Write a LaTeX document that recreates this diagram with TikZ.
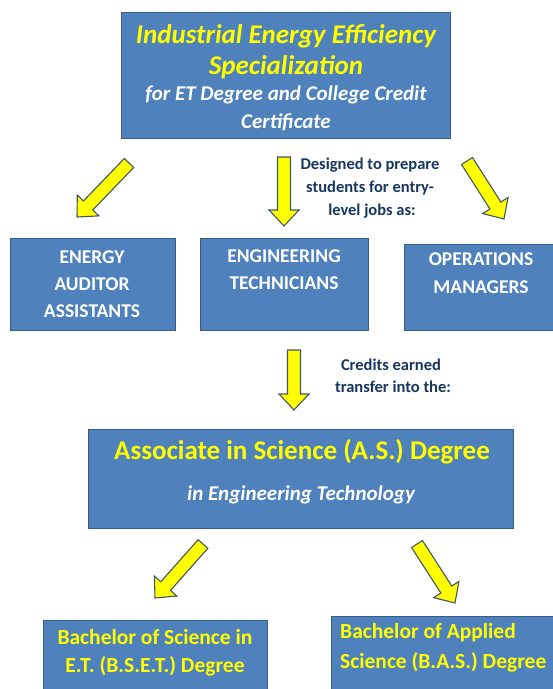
\documentclass[tikz,border=0pt]{standalone}
\usepackage{fontspec}
\setmainfont{Carlito}
\usetikzlibrary{calc}
\definecolor{boxblue}{RGB}{79,129,189}
\definecolor{boxedge}{RGB}{56,93,138}
\definecolor{ytext}{RGB}{255,255,0}
\definecolor{navy}{RGB}{23,55,94}
\definecolor{arrowedge}{RGB}{65,85,105}
\tikzset{
  box/.style={draw=boxedge, line width=1pt, fill=boxblue, inner sep=0pt, outer sep=0pt, anchor=north west},
  ytitle/.style={text=ytext, font=\bfseries\itshape\fontsize{27}{30}\selectfont, inner sep=0pt},
  wsub/.style={text=white, font=\bfseries\itshape\fontsize{21}{24}\selectfont, inner sep=0pt},
  job/.style={text=white, font=\bfseries\fontsize{19.5}{22}\selectfont, inner sep=0pt},
  note/.style={text=navy, font=\bfseries\fontsize{16.5}{19}\selectfont, inner sep=0pt},
  astitle/.style={text=ytext, font=\bfseries\fontsize{27}{30}\selectfont, inner sep=0pt},
  ylabel/.style={text=ytext, font=\bfseries\fontsize{21.5}{24}\selectfont, inner sep=0pt},
  blockarrow/.style={draw=arrowedge, line width=1.1pt, fill=ytext, line join=miter}
}
% block arrow: #1 name prefix, #2 tail, #3 tip
\newcommand\yarrow[3]{%
  \coordinate (#1-hb) at ($(#3)!16pt!(#2)$);
  \draw[blockarrow] ($(#2)!6.5pt!90:(#3)$) -- ($(#1-hb)!6.5pt!90:(#3)$) -- ($(#1-hb)!15pt!90:(#3)$)
    -- (#3) -- ($(#1-hb)!15pt!-90:(#3)$) -- ($(#1-hb)!6.5pt!-90:(#3)$) -- ($(#2)!6.5pt!-90:(#3)$) -- cycle;
}
\begin{document}
\begin{tikzpicture}[x=1pt,y=-1pt]
\useasboundingbox[fill=white] (0,0) rectangle (553,689);

% top box
\node[box, minimum width=329pt, minimum height=126pt] (top) at (121,12) {};
\node[ytitle] (t1) at (286,36) {Industrial Energy Efficiency};
\node[ytitle] (t2) at (286,67) {Specialization};
\node[wsub] (t3) at (286,95) {for ET Degree and College Credit};
\node[wsub] (t4) at (286,122) {Certificate};

% arrows to jobs
\coordinate (a1s) at (129,163); \coordinate (a1e) at (77,217);
\coordinate (a2s) at (284,157); \coordinate (a2e) at (284,226);
\coordinate (a3s) at (467,161); \coordinate (a3e) at (504,219);
\yarrow{a1}{a1s}{a1e}
\yarrow{a2}{a2s}{a2e}
\yarrow{a3}{a3s}{a3e}

\node[note] (n1) at (370,165) {Designed to prepare};
\node[note] (n2) at (370,188) {students for entry-};
\node[note] (n3) at (372,211) {level jobs as:};

% job boxes
\node[box, minimum width=165pt, minimum height=92pt] (ea) at (10,238) {};
\node[job] (ea1) at (92,257) {ENERGY};
\node[job] (ea2) at (92,284) {AUDITOR};
\node[job] (ea3) at (92,311) {ASSISTANTS};

\node[box, minimum width=168pt, minimum height=92pt] (et) at (200,238) {};
\node[job] (et1) at (284,256) {ENGINEERING};
\node[job] (et2) at (284,283) {TECHNICIANS};

\node[box, minimum width=155pt, minimum height=86pt] (om) at (404,244) {};
\node[job] (om1) at (481,259) {OPERATIONS};
\node[job] (om2) at (481,287) {MANAGERS};

% arrow to AS
\coordinate (a4s) at (294,350); \coordinate (a4e) at (294,410);
\yarrow{a4}{a4s}{a4e}
\node[note] (n4) at (391,365) {Credits earned};
\node[note] (n5) at (393,387) {transfer into the:};

% AS box
\node[box, minimum width=425pt, minimum height=99pt] (as) at (88,429) {};
\node[astitle] (as1) at (302,452) {Associate in Science (A.S.) Degree};
\node[wsub] (as2) at (301,495) {in Engineering Technology};

% arrows to bachelor
\coordinate (a5s) at (203,544); \coordinate (a5e) at (155,598);
\coordinate (a6s) at (417,544); \coordinate (a6e) at (455,603);
\yarrow{a5}{a5s}{a5e}
\yarrow{a6}{a6s}{a6e}

% bachelor boxes
\node[box, minimum width=224pt, minimum height=80pt] (bs) at (43,620) {};
\node[ylabel] (bs1) at (155,637) {Bachelor of Science in};
\node[ylabel] (bs2) at (155,666) {E.T. (B.S.E.T.) Degree};

\node[box, minimum width=230pt, minimum height=80pt] (ba) at (331,616) {};
\node[ylabel, anchor=west] (ba1) at (340,633) {Bachelor of Applied};
\node[ylabel, anchor=west] (ba2) at (340,662) {Science (B.A.S.) Degree};
\end{tikzpicture}
\end{document}
